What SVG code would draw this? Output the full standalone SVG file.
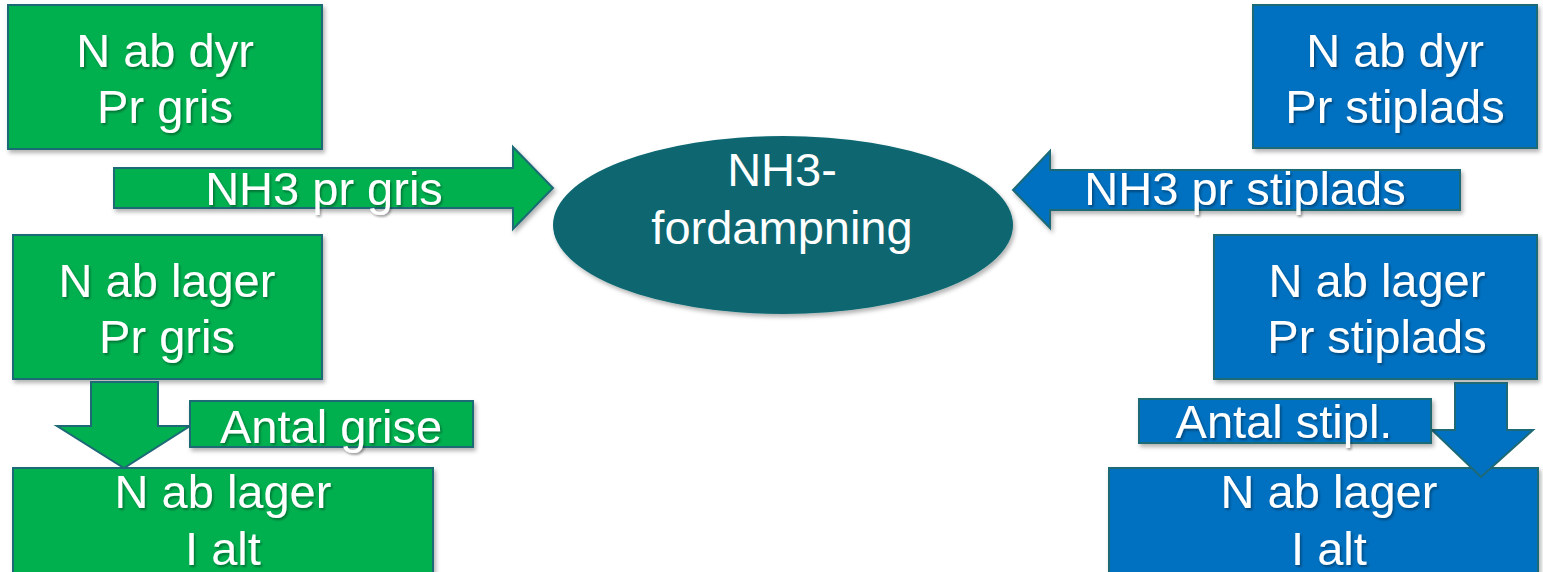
<svg xmlns="http://www.w3.org/2000/svg" width="1543" height="572" viewBox="0 0 1543 572">
<defs>
<filter id="sh" x="-10%" y="-10%" width="120%" height="130%">
<feDropShadow dx="2" dy="3" stdDeviation="2" flood-color="#000" flood-opacity="0.3"/>
</filter>
<filter id="tsh" x="-10%" y="-20%" width="120%" height="150%">
<feDropShadow dx="1.5" dy="2" stdDeviation="1.2" flood-color="#000" flood-opacity="0.35"/>
</filter>
</defs>
<style>
.g{fill:#00B050;stroke:#1D6A76;stroke-width:2}
.b{fill:#0070C0;stroke:#1D6A76;stroke-width:2}
.e{fill:#08666F}
text{font-family:"Liberation Sans",Arial,sans-serif;font-size:47px;fill:#fff;text-anchor:middle}
.t{filter:url(#tsh)}
</style>
<rect width="1543" height="572" fill="#fff"/>

<g id="green-n-ab-dyr">
<rect class="g" x="8" y="5" width="314" height="144" filter="url(#sh)"/>
<text class="t" x="165" y="67">N ab dyr</text>
<text class="t" x="165" y="123">Pr gris</text>
</g>

<g id="green-n-ab-lager">
<rect class="g" x="13" y="235" width="309" height="144" filter="url(#sh)"/>
<text class="t" x="167" y="297">N ab lager</text>
<text class="t" x="167" y="353">Pr gris</text>
</g>

<g id="green-n-ab-lager-i-alt">
<rect class="g" x="13" y="468" width="420" height="112" filter="url(#sh)"/>
<text class="t" x="223" y="508">N ab lager</text>
<text class="t" x="223" y="565">I alt</text>
</g>

<g id="blue-n-ab-dyr">
<rect class="b" x="1253" y="5" width="284" height="143" filter="url(#sh)"/>
<text class="t" x="1395" y="67">N ab dyr</text>
<text class="t" x="1395" y="123">Pr stiplads</text>
</g>

<g id="blue-n-ab-lager">
<rect class="b" x="1214" y="235" width="323" height="144" filter="url(#sh)"/>
<text class="t" x="1377" y="297">N ab lager</text>
<text class="t" x="1377" y="353">Pr stiplads</text>
</g>

<g id="blue-n-ab-lager-i-alt">
<rect class="b" x="1109" y="468" width="429" height="112" filter="url(#sh)"/>
<text class="t" x="1329" y="508">N ab lager</text>
<text class="t" x="1329" y="565">I alt</text>
</g>

<g id="nh3-fordampning">
<ellipse class="e" cx="783" cy="225" rx="230" ry="89" filter="url(#sh)"/>
<text x="782" y="186">NH3-</text>
<text x="782" y="244">fordampning</text>
</g>

<g id="connectors">
<g id="arrow-nh3-pr-gris">
<path class="g" d="M114,168 H513 V147 L553,188 L513,229 V208 H114 Z" filter="url(#sh)"/>
<text class="t" x="324" y="205">NH3 pr gris</text>
</g>
<g id="arrow-nh3-pr-stiplads">
<path class="b" d="M1460,170 H1050 V151 L1013,190 L1050,228 V210 H1460 Z" filter="url(#sh)"/>
<text class="t" x="1245" y="205">NH3 pr stiplads</text>
</g>
<g id="arrow-green-down">
<path class="g" d="M91,382 H158 V426 H190 L124,468 L57,426 H91 Z"/>
</g>
<g id="arrow-blue-down">
<path class="b" d="M1455,383 H1507 V430 H1533 L1481,477 L1432,430 H1455 Z"/>
</g>
</g>

<g id="antal-grise">
<rect class="g" x="190" y="401" width="283" height="46" filter="url(#sh)"/>
<text class="t" x="331" y="443">Antal grise</text>
</g>

<g id="antal-stipl">
<rect class="b" x="1139" y="399" width="292" height="44" filter="url(#sh)"/>
<text class="t" x="1284" y="438">Antal stipl.</text>
</g>
</svg>
